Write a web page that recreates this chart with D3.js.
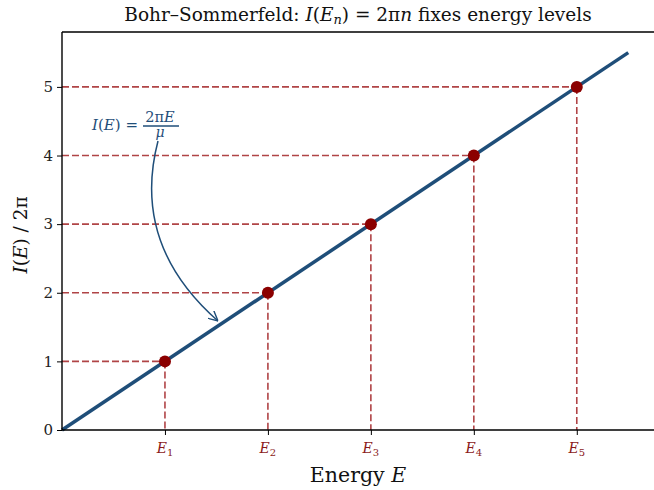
<!DOCTYPE html>
<html>
<head>
<meta charset="utf-8">
<script src="https://cdn.jsdelivr.net/npm/d3@7"></script>
<style>
  body { margin: 0; background: #fff; }
  svg { display: block; font-family: "DejaVu Serif", serif; }
</style>
</head>
<body>
<div id="chart"></div>
<script>
// niveles n y energias E_n (en unidades de mu / 2pi)
const levels = [1, 2, 3, 4, 5];
const energies = [1, 2, 3, 4, 5];
const tickLabels = ["1", "2", "3", "4", "5"];
const yTicks = [0, 1, 2, 3, 4, 5];
const lineE = [0, 5.5];

const width = 654, height = 490;
const margin = { top: 32, right: 0, bottom: 60, left: 62 };

const svg = d3.select("#chart").append("svg")
  .attr("width", width)
  .attr("height", height);

const x = d3.scaleLinear().domain([0, 5.75]).range([margin.left, width - margin.right]);
const y = d3.scaleLinear().domain([0, 5.8]).range([height - margin.bottom, margin.top]);

const red = "#b04446";
const blue = "#1f4e79";

// lineas de referencia
levels.forEach((n, i) => {
  const e = energies[i];
  svg.append("line")
    .attr("x1", x(0)).attr("x2", x(e))
    .attr("y1", y(n)).attr("y2", y(n))
    .attr("stroke", red).attr("stroke-width", 1.6)
    .attr("stroke-dasharray", "7,3");
  svg.append("line")
    .attr("x1", x(e)).attr("x2", x(e))
    .attr("y1", y(n)).attr("y2", y(0))
    .attr("stroke", red).attr("stroke-width", 1.6)
    .attr("stroke-dasharray", "7,3");
});

// I(E)/2pi = E
svg.append("path")
  .datum(lineE)
  .attr("d", d3.line().x(d => x(d)).y(d => y(d)))
  .attr("stroke", blue).attr("stroke-width", 3.5).attr("fill", "none");

svg.selectAll("circle.pt")
  .data(levels)
  .join("circle")
  .attr("class", "pt")
  .attr("cx", (d, i) => x(energies[i]))
  .attr("cy", d => y(d))
  .attr("r", 6)
  .attr("fill", "#8b0000");

// ejes
const yAxis = svg.append("g")
  .attr("transform", `translate(${margin.left},0)`)
  .call(d3.axisLeft(y).tickValues(yTicks).tickSize(5).tickPadding(4).tickFormat(d3.format("d")));
yAxis.select(".domain").remove();
yAxis.selectAll("text").attr("font-size", 15).attr("font-family", "DejaVu Serif").attr("fill", "#222");
yAxis.selectAll("line").attr("stroke", "#000").attr("stroke-width", 1);

const xAxis = svg.append("g")
  .attr("transform", `translate(0,${y(0)})`)
  .call(d3.axisBottom(x).tickValues(energies).tickSize(5).tickFormat(""));
xAxis.select(".domain").remove();
xAxis.selectAll("line").attr("stroke", "#000").attr("stroke-width", 1);

energies.forEach((e, i) => {
  const t = svg.append("text")
    .attr("x", x(e)).attr("y", y(0) + 23)
    .attr("text-anchor", "middle")
    .attr("fill", "#8b1a1a")
    .attr("font-size", 14);
  t.append("tspan").attr("font-style", "italic").text("E");
  t.append("tspan").attr("font-size", 10).attr("dy", 3).text(tickLabels[i]);
});

// marco
svg.append("path")
  .attr("d", `M${margin.left},${margin.top}V${y(0)}H${width}M${margin.left},${margin.top}H${width}`)
  .attr("stroke", "#000").attr("stroke-width", 1.4).attr("fill", "none");

// titulo
const title = svg.append("text")
  .attr("x", 358).attr("y", 21)
  .attr("text-anchor", "middle")
  .attr("font-size", 18.5).attr("fill", "#111");
title.append("tspan").text("Bohr–Sommerfeld: ");
title.append("tspan").attr("font-style", "italic").text("I");
title.append("tspan").text("(");
title.append("tspan").attr("font-style", "italic").text("E");
title.append("tspan").attr("font-style", "italic").attr("font-size", 13).attr("dy", 3).text("n");
title.append("tspan").attr("dy", -3).text(") = 2π");
title.append("tspan").attr("font-style", "italic").text("n");
title.append("tspan").text(" fixes energy levels");

// etiquetas de ejes
const xl = svg.append("text")
  .attr("x", 358).attr("y", 482)
  .attr("text-anchor", "middle")
  .attr("font-size", 20.5).attr("fill", "#111");
xl.append("tspan").text("Energy ");
xl.append("tspan").attr("font-style", "italic").text("E");

const yl = svg.append("text")
  .attr("transform", "translate(27,235) rotate(-90)")
  .attr("text-anchor", "middle")
  .attr("font-size", 18.5).attr("fill", "#111");
yl.append("tspan").attr("font-style", "italic").text("I");
yl.append("tspan").text("(");
yl.append("tspan").attr("font-style", "italic").text("E");
yl.append("tspan").text(") / 2π");

// anotacion
const ann = svg.append("g").attr("fill", blue).attr("font-size", 15);
const at = ann.append("text").attr("x", 138).attr("y", 130).attr("text-anchor", "end");
at.append("tspan").attr("font-style", "italic").text("I");
at.append("tspan").text("(");
at.append("tspan").attr("font-style", "italic").text("E");
at.append("tspan").text(") =");
ann.append("text").attr("x", 160).attr("y", 122).attr("text-anchor", "middle").attr("font-size", 14.5)
  .html('2π<tspan font-style="italic">E</tspan>');
ann.append("line").attr("x1", 143).attr("x2", 179).attr("y1", 126).attr("y2", 126)
  .attr("stroke", blue).attr("stroke-width", 1.4);
ann.append("text").attr("x", 160).attr("y", 137).attr("text-anchor", "middle").attr("font-size", 14)
  .attr("font-style", "italic").text("μ");

svg.append("defs").append("marker")
  .attr("id", "arr").attr("viewBox", "0 0 10 10").attr("refX", 10).attr("refY", 5)
  .attr("markerWidth", 10).attr("markerHeight", 10).attr("markerUnits", "userSpaceOnUse")
  .attr("orient", "auto")
  .append("path").attr("d", "M0,0L10,5L0,10").attr("fill", "none").attr("stroke", blue).attr("stroke-width", 1.4);

svg.append("path")
  .attr("d", "M158,141 C140,210 160,270 218,321")
  .attr("stroke", blue).attr("stroke-width", 1.5).attr("fill", "none")
  .attr("marker-end", "url(#arr)");
</script>
</body>
</html>
